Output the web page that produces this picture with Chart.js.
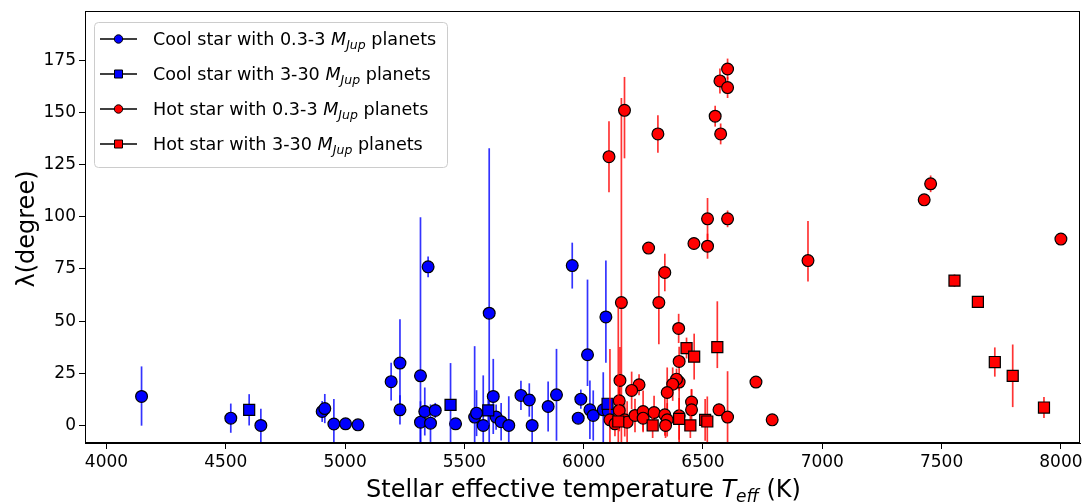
<!DOCTYPE html>
<html><head><meta charset="utf-8">
<script src="https://cdn.jsdelivr.net/npm/chart.js@4.4.0/dist/chart.umd.min.js"></script>
<style>html,body{margin:0;padding:0;background:#fff}#wrap{width:1085px;height:504px}</style>
</head><body><div id="wrap"><canvas id="c" width="1085" height="504"></canvas></div>
<script>
// ---- data ----
const xTicks = [4000,4500,5000,5500,6000,6500,7000,7500,8000];
const yTicks = [0,25,50,75,100,125,150,175];

const coolCircT = [4147,4521,4647,4904,4915,4953,5002,5054,5193,5230,5230,5316,5316,5334,5348,5358,5378,5463,5543,5551,5579,5604,5621,5633,5654,5686,5737,5772,5784,5851,5886,5952,5977,5988,6016,6026,6040,6082,6093,6103];
const coolCircL = [13.9,3.5,0,6.7,8.1,0.7,0.8,0.3,21,29.9,7.5,23.8,1.6,6.7,76,1.1,7.2,0.8,4,5.9,0,53.8,13.9,4,1.8,0,14.4,12.2,0,9.1,14.7,76.6,3.5,12.6,33.9,7.5,4.8,7.5,52,6.7];
const coolCircLo = [14,7,10,5,7,12,0,0,9,21,7,76,10,11.5,5,9,3.6,0,34,11,24,79,18,6,9,14,7,8,15,12,22,11,0,4.6,15,14,12,18,22,0];
const coolCircHi = [14.4,7,8,5,7,12,0,0,9,21,7,76,10,11.5,5,9,3.6,0,34,11,24,79,18,6,9,14,7,8,15,12,22,11,0,4.6,36,14,12,18,27,0];

const coolSqT = [4598,5442,5600,6100];
const coolSqL = [7.5,9.9,7.2,10.4];
const coolSqLo = [7.5,20,7,2];
const coolSqHi = [7.5,20,5,2];

const hotCircT = [6106,6171,6158,6311,6551,6571,6603,6603,6574,6519,6603,6519,6462,6272,6940,6340,6315,6398,6400,6400,6389,6373,6350,6232,6201,6152,6149,6149,6110,6131,6172,6182,6215,6249,6249,6295,6340,6350,6343,6400,6452,6452,6567,6603,6722,6790,7427,7454,8000];
const hotCircL = [128.8,151,58.9,139.7,148.2,165.1,170.8,161.9,139.7,99,99,85.9,87.2,85,79,73.3,58.9,46.5,30.7,20.8,22.2,19.8,15.8,19.5,16.8,21.6,11.8,7.2,2.7,0.8,2.7,1.6,4.8,6.7,3.5,6.2,5.1,2.7,0,4.6,11.2,7.5,7.5,4,20.8,2.7,108.1,115.8,89.3];
const hotCircLo = [17,23,98,9,5,6,5,5,5,10,4,6,0,0,10,9,20,7,7,4,5,8,12,5,9,16,12,10,34,6,8,10,8,10,6,8,10,8,6,15,6,10,3,22,2,0,0,4,0];
const hotCircHi = [17,16,98,9,5,6,5,5,5,10,4,6,0,0,19,9,15,7,7,4,5,8,12,5,9,16,12,10,34,6,8,10,8,10,6,8,10,8,6,15,6,10,3,22,2,0,0,4,0];

const hotSqT = [6145,6289,6400,6431,6463,6447,6509,6518,6560,7554,7652,7723,7798,7929];
const hotSqL = [1.9,0,3.2,37.1,33,0,2.7,1.9,37.5,69.4,59.2,30.4,23.8,8.6];
const hotSqLo = [55,6,10,5,11,6,10,12,10,3,0,7,15,5];
const hotSqHi = [55,6,10,5,11,6,10,12,22,3,0,7,15,5];

const legendPre = ['Cool star with 0.3-3 ','Cool star with 3-30 ','Hot star with 0.3-3 ','Hot star with 3-30 '];
const xTitle = ['Stellar effective temperature ','T','eff',' (K)'];
const yTitle = 'λ(degree)';

// ---- build ----
const FONT = '"DejaVu Sans"';
const series = [
  {T:coolCircT,L:coolCircL,lo:coolCircLo,hi:coolCircHi,color:'#0000ff',bar:'rgba(0,0,255,0.8)',style:'circle'},
  {T:coolSqT,L:coolSqL,lo:coolSqLo,hi:coolSqHi,color:'#0000ff',bar:'rgba(0,0,255,0.8)',style:'rect'},
  {T:hotCircT,L:hotCircL,lo:hotCircLo,hi:hotCircHi,color:'#ff0000',bar:'rgba(255,0,0,0.8)',style:'circle'},
  {T:hotSqT,L:hotSqL,lo:hotSqLo,hi:hotSqHi,color:'#ff0000',bar:'rgba(255,0,0,0.8)',style:'rect'}
];
const datasets = series.map((s,i)=>({
  data: s.T.map((t,j)=>({x:t,y:s.L[j]})),
  pointStyle: s.style,
  pointRadius: s.style==='rect'?7.8:5.9,
  pointBackgroundColor: s.color,
  pointBorderColor: '#000',
  pointBorderWidth: 1.2,
  showLine:false,
  clip:false,
  order: 4-i
}));

const errorBars = {
  id:'errorBars',
  beforeDatasetDraw(chart,args){
    const s = series[args.index]; if(!s) return;
    const {ctx,chartArea:a,scales:{x,y}} = chart;
    ctx.save();
    ctx.beginPath(); ctx.rect(a.left,a.top,a.right-a.left,a.bottom-a.top); ctx.clip();
    ctx.strokeStyle = s.bar; ctx.lineWidth = 1.7;
    s.T.forEach((t,j)=>{
      if(!s.lo[j] && !s.hi[j]) return;
      const px = x.getPixelForValue(t);
      ctx.beginPath();
      ctx.moveTo(px, y.getPixelForValue(s.L[j]-s.lo[j]));
      ctx.lineTo(px, y.getPixelForValue(s.L[j]+s.hi[j]));
      ctx.stroke();
    });
    ctx.restore();
  }
};

function rr(ctx,x,y,w,h,r){ctx.beginPath();ctx.moveTo(x+r,y);ctx.lineTo(x+w-r,y);ctx.quadraticCurveTo(x+w,y,x+w,y+r);ctx.lineTo(x+w,y+h-r);ctx.quadraticCurveTo(x+w,y+h,x+w-r,y+h);ctx.lineTo(x+r,y+h);ctx.quadraticCurveTo(x,y+h,x,y+h-r);ctx.lineTo(x,y+r);ctx.quadraticCurveTo(x,y,x+r,y);ctx.closePath();}

const decor = {
  id:'decor',
  afterDraw(chart){
    const {ctx,chartArea:a} = chart;
    ctx.save();
    // frame
    ctx.strokeStyle='#000'; ctx.lineWidth=1;
    ctx.strokeRect(Math.round(a.left)+0.5,Math.round(a.top)+0.5,Math.round(a.right-a.left)-1,Math.round(a.bottom-a.top)-1);
    // legend
    rr(ctx,94.5,22.5,353,145,4);
    ctx.fillStyle='rgba(255,255,255,0.8)'; ctx.fill();
    ctx.strokeStyle='#cccccc'; ctx.lineWidth=1; ctx.stroke();
    ctx.textBaseline='alphabetic'; ctx.fillStyle='#000';
    series.forEach((s,i)=>{
      const cy = 39 + i*35;
      ctx.strokeStyle='#000'; ctx.lineWidth=1.5;
      ctx.beginPath(); ctx.moveTo(100,cy); ctx.lineTo(137,cy); ctx.stroke();
      ctx.fillStyle=s.color; ctx.strokeStyle='#000'; ctx.lineWidth=1;
      ctx.beginPath();
      if(s.style==='circle'){ ctx.arc(118.5,cy,4.2,0,Math.PI*2); }
      else { ctx.rect(114.5,cy-4,8,8); }
      ctx.fill(); ctx.stroke();
      ctx.fillStyle='#000';
      let x = 153, base = cy+6;
      ctx.font = '17.6px '+FONT; ctx.fillText(legendPre[i],x,base); x += ctx.measureText(legendPre[i]).width;
      ctx.font = 'italic 17.6px '+FONT; ctx.fillText('M',x,base); x += ctx.measureText('M').width;
      ctx.font = 'italic 12.5px '+FONT; ctx.fillText('Jup',x,base+4); x += ctx.measureText('Jup').width;
      ctx.font = '17.6px '+FONT; ctx.fillText(' planets',x,base);
    });
    // x title
    const parts = [
      {t:xTitle[0],f:'24px '+FONT,dy:0},
      {t:xTitle[1],f:'italic 24px '+FONT,dy:0},
      {t:xTitle[2],f:'italic 17px '+FONT,dy:5},
      {t:xTitle[3],f:'24px '+FONT,dy:0}
    ];
    let w=0; parts.forEach(p=>{ctx.font=p.f; p.w=ctx.measureText(p.t).width; w+=p.w;});
    let x = (a.left+a.right)/2 - w/2 + 1;
    parts.forEach(p=>{ctx.font=p.f; ctx.fillText(p.t,x,497+p.dy); x+=p.w;});
    // y title
    ctx.translate(28,(a.top+a.bottom)/2+2); ctx.rotate(-Math.PI/2);
    ctx.font='24px '+FONT; ctx.textAlign='center'; ctx.textBaseline='middle';
    ctx.fillText(yTitle,0,0);
    ctx.restore();
  }
};

new Chart(document.getElementById('c'),{
  type:'scatter',
  data:{datasets},
  options:{
    responsive:false, animation:false, devicePixelRatio:1,
    layout:{autoPadding:false,padding:{top:11,right:5,left:0,bottom:0}},
    plugins:{legend:{display:false},tooltip:{enabled:false}},
    scales:{
      x:{type:'linear',min:3910,max:8080,
        afterBuildTicks:s=>{s.ticks=xTicks.map(v=>({value:v}));},
        afterFit:s=>{s.height=61; s.paddingLeft=0; s.paddingRight=0;},
        ticks:{font:{family:'DejaVu Sans',size:17},color:'#000',padding:3,maxRotation:0,autoSkip:false,callback:v=>String(v)},
        grid:{display:true,drawOnChartArea:false,drawTicks:true,tickLength:6,color:'#000'},
        border:{display:true,color:'#000',width:1}},
      y:{type:'linear',min:-8.4,max:198.6,
        afterBuildTicks:s=>{s.ticks=yTicks.map(v=>({value:v}));},
        afterFit:s=>{s.width=85; s.paddingTop=0; s.paddingBottom=0;},
        ticks:{font:{family:'DejaVu Sans',size:17},color:'#000',padding:3,autoSkip:false,callback:v=>String(v)},
        grid:{display:true,drawOnChartArea:false,drawTicks:true,tickLength:6,color:'#000'},
        border:{display:true,color:'#000',width:1}}
    }
  },
  plugins:[errorBars,decor]
});
</script></body></html>
